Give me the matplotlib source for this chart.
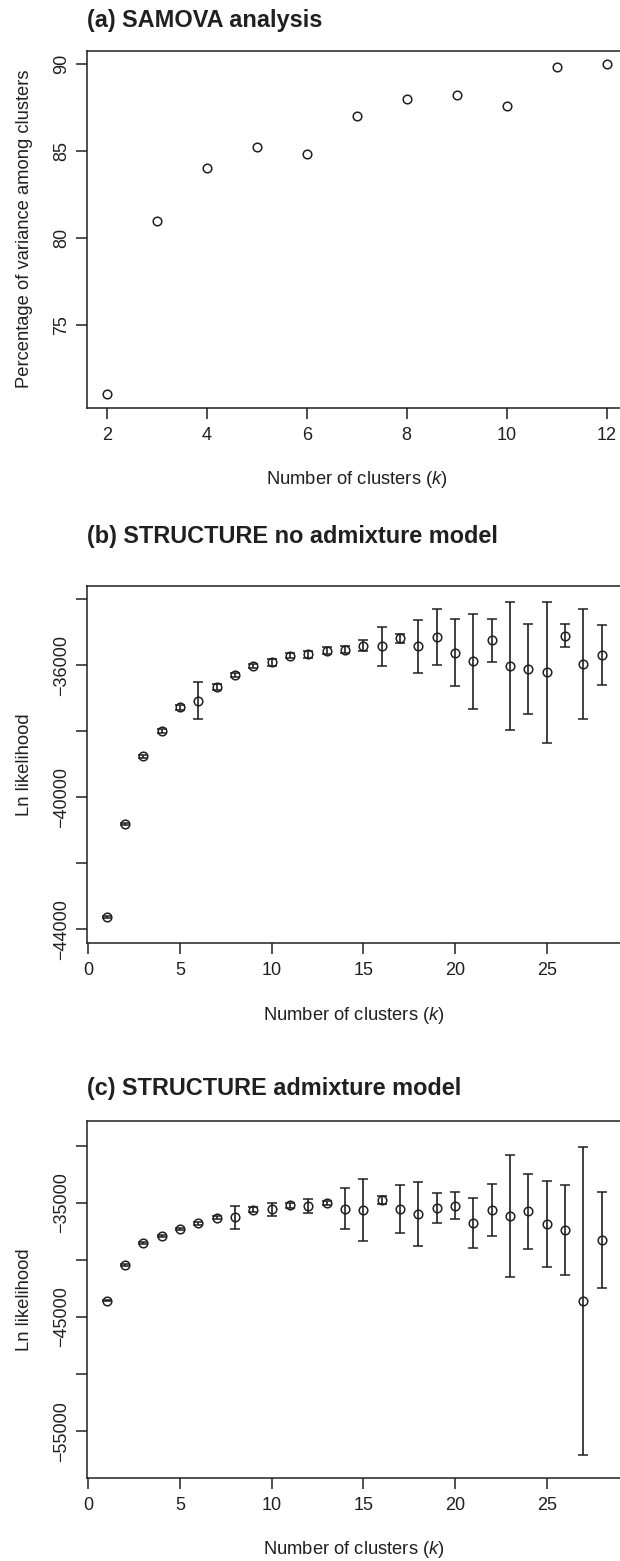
import matplotlib
matplotlib.use('Agg')
import matplotlib.pyplot as plt

# ---------------- data ----------------
samova_k = [2, 3, 4, 5, 6, 7, 8, 9, 10, 11, 12]
samova_pct = [71.0, 81.0, 84.0, 85.2, 84.8, 87.0, 88.0, 88.2, 87.6, 89.8, 90.0]

k_structure = list(range(1, 29))

lnl_noadmix = [-43636, -40809, -38768, -38000, -37283, -37081, -36657, -36303,
               -36020, -35919, -35717, -35677, -35566, -35535, -35414, -35434,
               -35192, -35434, -35145, -35620, -35889, -35253, -36030, -36121,
               -36212, -35111, -35980, -35687]
sd_noadmix = [30, 40, 60, 60, 80, 556, 90, 50, 60, 100, 80, 100, 110, 100, 170,
              596, 140, 798, 838, 1025, 1434, 656, 1950, 1358, 2136, 348, 1667, 914]

lnl_admix = [-43566, -40420, -38526, -37885, -37273, -36807, -36311, -36290,
             -35612, -35583, -35233, -35291, -35029, -35505, -35615, -34738,
             -35540, -35950, -35466, -35262, -36770, -35641, -36136, -35758,
             -36865, -37390, -43610, -38293]
sd_admix = [60, 80, 100, 100, 100, 120, 150, 1035, 200, 583, 250, 627, 200, 1760,
            2697, 365, 2067, 2797, 1282, 1181, 2185, 2300, 5332, 3292, 3744, 3977,
            13490, 4196]

xticks_a = [2, 4, 6, 8, 10, 12]
yticks_a = [75, 80, 85, 90]
xticks_bc = [0, 5, 10, 15, 20, 25]
yticks_b = [-44000, -42000, -40000, -38000, -36000, -34000]
ylabels_b = ['\u221244000', '', '\u221240000', '', '\u221236000', '']
yticks_c = [-55000, -50000, -45000, -40000, -35000, -30000]
ylabels_c = ['\u221255000', '', '\u221245000', '', '\u221235000', '']

titles = ['(a) SAMOVA analysis', '(b) STRUCTURE no admixture model',
          '(c) STRUCTURE admixture model']
ylab_a = 'Percentage of variance among clusters'
ylab_bc = 'Ln likelihood'
xlab = 'Number of clusters ($k$)'

# ---------------- style ----------------
plt.rcParams['font.family'] = ['Liberation Sans', 'DejaVu Sans']
plt.rcParams['mathtext.fontset'] = 'custom'
plt.rcParams['mathtext.rm'] = 'Liberation Sans'
plt.rcParams['mathtext.it'] = 'Liberation Sans:italic'

INK = '#231f20'
W, H = 620, 1561
fig = plt.figure(figsize=(W / 100, H / 100), dpi=100)


def add_ax(left, top, right, bottom):
    return fig.add_axes([left / W, 1 - bottom / H, (right - left) / W, (bottom - top) / H])


def style(ax):
    for s in ax.spines.values():
        s.set_linewidth(1.1)
        s.set_color(INK)
    ax.tick_params(direction='out', length=8, width=1.1, color=INK,
                   labelsize=13, labelcolor=INK)
    ax.tick_params(axis='x', pad=6)
    ax.tick_params(axis='y', pad=4)


TS = 16.9
LS = 13.2

# ---- panel (a)
axa = add_ax(86.7, 50.7, 626.7, 407.7)
style(axa)
axa.plot(samova_k, samova_pct, linestyle='none', marker='o', ms=6.2,
         mfc='none', mec=INK, mew=1.1)
axa.set_xlim(1.6, 12.4)
axa.set_ylim(70.24, 90.76)
axa.set_xticks(xticks_a)
axa.set_yticks(yticks_a)
axa.set_yticklabels([str(v) for v in yticks_a], rotation=90, va='center')

fig.text(86.7 / W, 1 - 20 / H, titles[0], fontsize=TS, fontweight='bold',
         ha='left', va='center', color=INK)
fig.text(25 / W, 1 - 229 / H, ylab_a, rotation=90, fontsize=LS,
         ha='center', va='center', color=INK)
fig.text(356.7 / W, 1 - 480 / H, xlab, fontsize=LS, ha='center', va='center', color=INK)

# ---- panels (b) and (c)
panels = [
    (585.7, 942.7, lnl_noadmix, sd_noadmix, (-44406, -33597), yticks_b, ylabels_b,
     536, 1015, titles[1]),
    (1121.0, 1477.7, lnl_admix, sd_admix, (-59082, -27841), yticks_c, ylabels_c,
     1089, 1550, titles[2]),
]
for top, bottom, vals, sds, ylim, yt, yl, ty, xly, title in panels:
    ax = add_ax(86.7, top, 621.6, bottom)
    style(ax)
    ax.errorbar(k_structure, vals, yerr=sds, fmt='o', ms=6.2, mfc='none',
                mec=INK, mew=1.1, ecolor=INK, elinewidth=1.2, capsize=3.5,
                capthick=1.2)
    ax.set_xlim(-0.08, 29.08)
    ax.set_ylim(*ylim)
    ax.set_xticks(xticks_bc)
    ax.set_yticks(yt)
    ax.set_yticklabels(yl, rotation=90, va='center')
    fig.text(86.7 / W, 1 - ty / H, title, fontsize=TS, fontweight='bold',
             ha='left', va='center', color=INK)
    fig.text(25 / W, 1 - (top + bottom) / 2 / H, ylab_bc, rotation=90, fontsize=LS,
             ha='center', va='center', color=INK)
    fig.text(354 / W, 1 - xly / H, xlab, fontsize=LS, ha='center', va='center', color=INK)

fig.savefig('out.png', dpi=100)
